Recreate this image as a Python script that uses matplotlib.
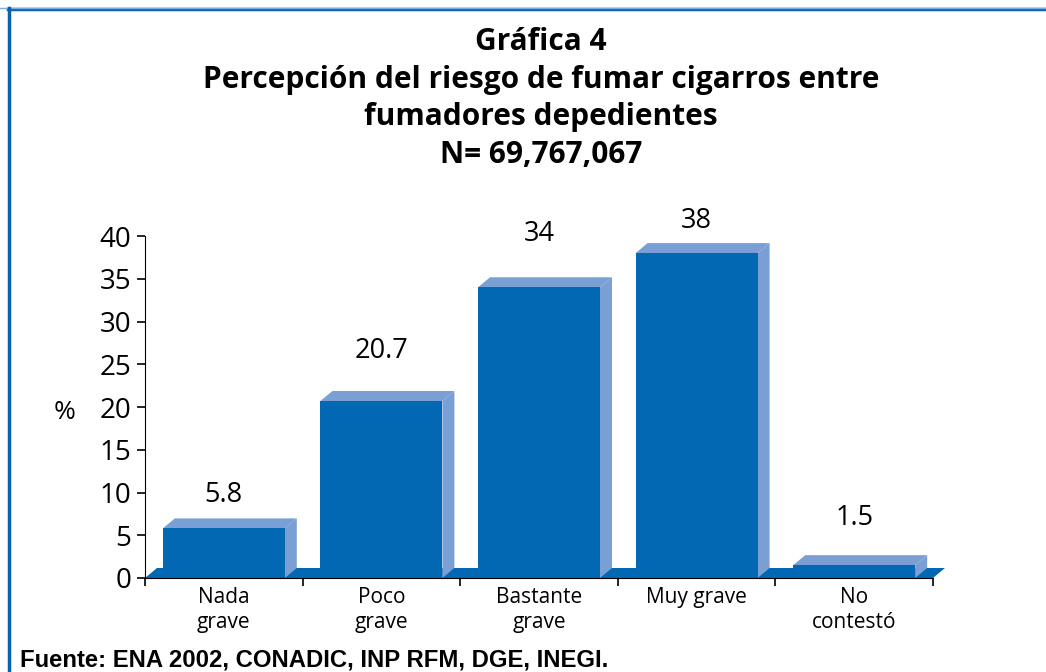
import matplotlib.pyplot as plt
from matplotlib.patches import Polygon
from matplotlib.lines import Line2D

# Data
categories = ["Nada\ngrave", "Poco\ngrave", "Bastante\ngrave", "Muy grave", "No\ncontestó"]
values = [5.8, 20.7, 34, 38, 1.5]
value_labels = ["5.8", "20.7", "34", "38", "1.5"]
yticks = [0, 5, 10, 15, 20, 25, 30, 35, 40]

# label gap above each bar (pixels)
label_gap = [33, 50, 53, 32, 47]

front = "#0368b4"
side = "#7a9fd4"
W, H = 1046, 672

fig = plt.figure(figsize=(W / 100, H / 100), dpi=100)
ax = fig.add_axes([145 / W, (H - 578) / H, (933 - 145) / W, (578 - 236) / H])

n = len(categories)
x = list(range(n))
ax.set_xlim(-0.5, n - 0.5)
ax.set_ylim(0, 40)

# 3D depth in data units
px_x = n / (933 - 145)
px_y = 40 / (578 - 236)
dx = 12 * px_x
dy = 10 * px_y
width = 0.774

# floor
floor = Polygon([(-0.5, 0), (-0.5 + dx, dy), (n - 0.5 + dx, dy), (n - 0.5, 0)],
                closed=True, facecolor=front, edgecolor="none", clip_on=False, zorder=1)
ax.add_patch(floor)

bars = ax.bar(x, values, width=width, color=front, zorder=3, clip_on=False)
for b in bars:
    x0 = b.get_x()
    x1 = x0 + b.get_width()
    h = b.get_height()
    ax.add_patch(Polygon([(x1, 0), (x1 + dx, dy), (x1 + dx, h + dy), (x1, h)],
                         closed=True, facecolor=side, edgecolor="none", clip_on=False, zorder=2))
    ax.add_patch(Polygon([(x0, h), (x0 + dx, h + dy), (x1 + dx, h + dy), (x1, h)],
                         closed=True, facecolor=side, edgecolor="none", clip_on=False, zorder=2))

for xi, v, lab, g in zip(x, values, value_labels, label_gap):
    ax.annotate(lab, (xi, v), xytext=(0, g * 0.72), textcoords="offset points",
                ha="center", va="center", fontsize=19.5, family="Open Sans")

ax.spines["top"].set_visible(False)
ax.spines["right"].set_visible(False)
ax.spines["left"].set_zorder(5)
ax.spines["bottom"].set_zorder(5)
ax.set_yticks(yticks)
ax.set_yticklabels([str(t) for t in yticks], fontsize=20, family="Open Sans")
ax.set_xticks([i - 0.5 for i in range(n + 1)])
ax.set_xticklabels([])
ax.tick_params(axis="y", direction="out", length=6, width=1.2, pad=4)
ax.tick_params(axis="x", direction="out", length=6, width=1.2)
for xi, c in zip(x, categories):
    ax.text(xi, -1.1, c, ha="center", va="top", fontsize=15, family="Open Sans",
            linespacing=1.2)
ax.text(-0.5 - 80 * px_x, 19.3, "%", ha="center", va="center", fontsize=19, family="Open Sans")

title = "Gráfica 4\nPercepción del riesgo de fumar cigarros entre\nfumadores depedientes\nN= 69,767,067"
fig.text(541 / W, 1 - 27 / H, title, ha="center", va="top", fontsize=21.5, fontweight="bold",
         family="Open Sans", linespacing=1.33)
fig.text(20 / W, 1 - 660 / H, "Fuente: ENA 2002, CONADIC, INP RFM, DGE, INEGI.",
         ha="left", va="center", fontsize=17.2, fontweight="bold", family="Liberation Sans")

# frame lines
fig.add_artist(Line2D([8 / W, 1], [1 - 9 / H, 1 - 9 / H], color="#0a62ad", lw=2.5))
fig.add_artist(Line2D([0, 1], [1 - 7.5 / H, 1 - 7.5 / H], color="#7aaee0", lw=1))
fig.add_artist(Line2D([9 / W, 9 / W], [0, 1 - 8 / H], color="#0a62ad", lw=2.5))

fig.savefig("out.png", dpi=100)
